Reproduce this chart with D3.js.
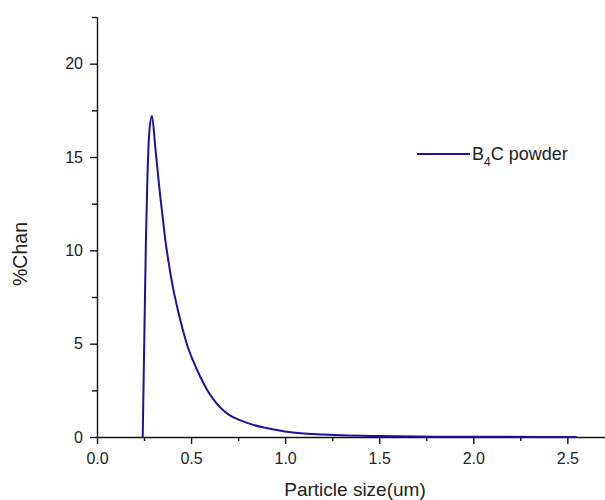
<!DOCTYPE html>
<html>
<head>
<meta charset="utf-8">
<script src="https://cdn.jsdelivr.net/npm/d3@7"></script>
<style>
  body { margin: 0; background: #fff; }
  text { font-family: "Liberation Sans", Arial, sans-serif; fill: #222; }
</style>
</head>
<body>
<script>
// particle size distribution
var sizeVals = [0.243, 0.247, 0.251, 0.255, 0.260, 0.267, 0.277, 0.292, 0.310, 0.320, 0.335, 0.350, 0.360, 0.380, 0.400, 0.430, 0.457, 0.480, 0.510, 0.550, 0.584, 0.620, 0.653, 0.700, 0.760, 0.830, 0.900, 1.000, 1.080, 1.200, 1.300, 1.500, 1.800, 2.100, 2.550];
var chanVals = [0, 2.5, 5, 7.5, 10.5, 13.5, 16.2, 17.2, 15.5, 14.5, 13.0, 11.7, 10.8, 9.4, 8.2, 6.8, 5.7, 4.9, 4.1, 3.2, 2.55, 2.0, 1.6, 1.2, 0.9, 0.65, 0.48, 0.3, 0.2, 0.13, 0.09, 0.05, 0.02, 0.01, 0];
var xTicks = [0, 0.5, 1.0, 1.5, 2.0, 2.5];
var yTicks = [0, 5, 10, 15, 20];

var width = 605, height = 500;
var svg = d3.select("body").append("svg")
    .attr("width", width)
    .attr("height", height);

var x = d3.scaleLinear().domain([0, 2.7]).range([97, 605]);
var y = d3.scaleLinear().domain([0, 22.5]).range([437, 17]);

var data = sizeVals.map(function(v, i){ return {s: v, c: chanVals[i]}; });

// minor ticks
svg.append("g")
    .attr("transform", "translate(0,437)")
    .call(d3.axisBottom(x).tickValues(d3.range(0.25, 2.7, 0.5)).tickSize(4).tickFormat(""))
    .call(function(g){ g.select(".domain").remove(); });
svg.append("g")
    .attr("transform", "translate(97,0)")
    .call(d3.axisLeft(y).tickValues([2.5, 7.5, 12.5, 17.5, 22.5]).tickSize(5).tickFormat(""))
    .call(function(g){ g.select(".domain").remove(); });

// major axes
var xAxis = svg.append("g")
    .attr("transform", "translate(0,437)")
    .call(d3.axisBottom(x).tickValues(xTicks).tickSize(7).tickSizeOuter(0).tickFormat(d3.format(".1f")));
var yAxis = svg.append("g")
    .attr("transform", "translate(97,0)")
    .call(d3.axisLeft(y).tickValues(yTicks).tickSize(7).tickSizeOuter(0));

svg.selectAll(".domain, .tick line").attr("stroke", "#111").attr("stroke-width", 1.4);
xAxis.selectAll("text").attr("font-size", 16).attr("dy", "1.05em");
yAxis.selectAll("text").attr("font-size", 16).attr("dx", "-0.25em");
svg.selectAll(".tick text").style("font-family", "Liberation Sans, Arial, sans-serif").attr("fill", "#222");

// curve
var line = d3.line()
    .x(function(d){ return x(d.s); })
    .y(function(d){ return y(d.c); })
    .curve(d3.curveMonotoneX);

svg.append("path")
    .datum(data)
    .attr("fill", "none")
    .attr("stroke", "#1c129e")
    .attr("stroke-width", 2)
    .attr("stroke-linejoin", "round")
    .attr("d", line);

// axis titles
svg.append("text")
    .attr("x", 355).attr("y", 496)
    .attr("text-anchor", "middle")
    .attr("font-size", 19)
    .text("Particle size(um)");
svg.append("text")
    .attr("transform", "translate(27,254) rotate(-90)")
    .attr("text-anchor", "middle")
    .attr("font-size", 19.5)
    .text("%Chan");

// legend
var leg = svg.append("g").attr("transform", "translate(417,154)");
leg.append("line")
    .attr("x1", 0).attr("x2", 53)
    .attr("y1", 0).attr("y2", 0)
    .attr("stroke", "#1c129e").attr("stroke-width", 2);
var lt = leg.append("text").attr("x", 55).attr("y", 6).attr("font-size", 18);
lt.append("tspan").text("B");
lt.append("tspan").attr("font-size", 12).attr("dy", 6).text("4");
lt.append("tspan").attr("dy", -6).text("C powder");
</script>
</body>
</html>
